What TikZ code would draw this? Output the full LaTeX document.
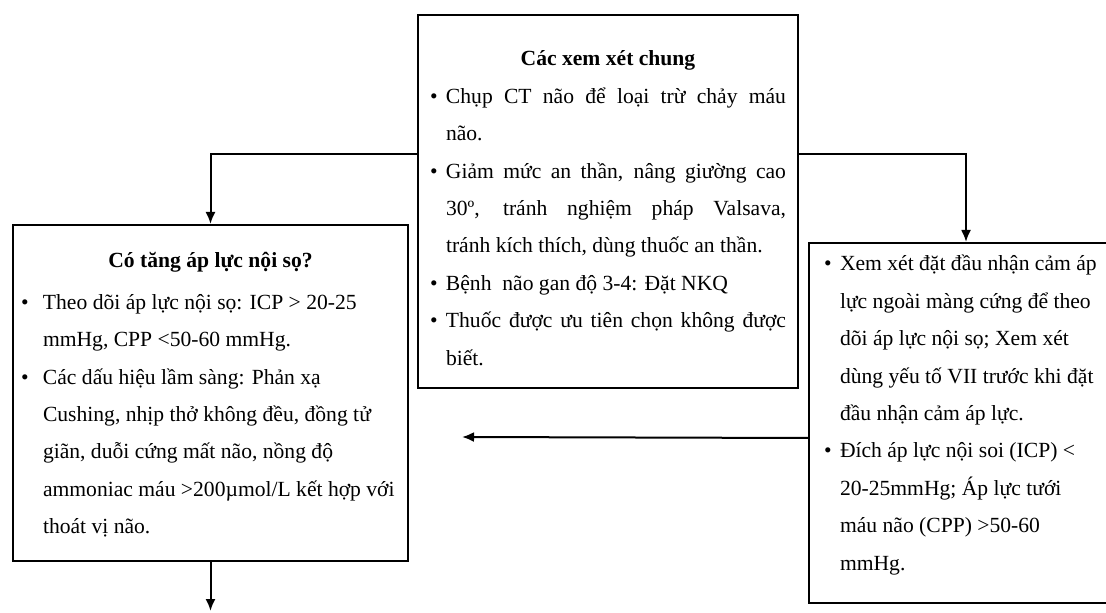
\documentclass[tikz,border=0pt]{standalone}
\usepackage{fontspec}
\setmainfont{Liberation Serif}
\usetikzlibrary{arrows.meta}

\tikzset{
  panel/.style={draw, line width=1pt, anchor=north west, inner ysep=0pt,
    font=\fontsize{10.8pt}{18.7pt}\selectfont},
  arr/.style={line width=1pt, -{Latex[length=6pt,width=5pt]}}
}
% punto con sangria colgante
\newcommand{\bul}[2][8pt]{\par\hangindent=#1\hangafter=1\noindent\hbox to #1{\textbullet\hss}#2}

\begin{document}
\begin{tikzpicture}[x=0.5pt, y=-0.5pt]
    \useasboundingbox (0,0) rectangle (1106,613);

    % Caja superior
    \node[panel, inner xsep=6pt] (gen) at (417,14) {\parbox[t][186.5pt][t]{178pt}{%
      {\centering\rule{0pt}{25.5pt}\bfseries Các xem xét chung\par}
      \bul{Chụp CT não để loại trừ chảy máu\linebreak não.}
      \bul{Giảm mức an thần, nâng giường cao\linebreak 30º, tránh nghiệm pháp Valsava,\linebreak tránh kích thích, dùng thuốc an thần.}
      \bul{Bệnh\ \ não gan độ 3-4: Đặt NKQ}
      \bul{Thuốc được ưu tiên chọn không được\linebreak biết.}}};

    % Caja izquierda
    \node[panel, inner xsep=4pt] (icp) at (12,224) {\parbox[t][168pt][t]{189.5pt}{\raggedright
      {\centering\rule{0pt}{21.5pt}\bfseries Có tăng áp lực nội sọ?\par}
      \vspace{2pt}
      \bul[11pt]{Theo dõi áp lực nội sọ: ICP > 20-25\newline mmHg, CPP <50-60 mmHg.}
      \bul[11pt]{Các dấu hiệu lầm sàng: Phản xạ\newline Cushing, nhịp thở không đều, đồng tử\newline giãn, duỗi cứng mất não, nồng độ\newline ammoniac máu >200µmol/L kết hợp với\newline thoát vị não.}}};

    % Caja derecha
    \node[panel, inner xsep=7.5pt] (mon) at (808,242) {\parbox[t][180pt][t]{142pt}{\raggedright
      \bul{\rule{0pt}{14pt}Xem xét đặt đầu nhận cảm áp\newline lực ngoài màng cứng để theo\newline dõi áp lực nội sọ; Xem xét\newline dùng yếu tố VII trước khi đặt\newline đầu nhận cảm áp lực.}
      \bul{Đích áp lực nội soi (ICP) <\newline 20-25mmHg; Áp lực tưới\newline máu não (CPP) >50-60\newline mmHg.}}};

    % Flechas
    \coordinate (tip) at (462,437);
    \coordinate (dn) at (0,611);
    \draw[arr] ([yshift=23.75pt]gen.west) -| (icp.north);
    \draw[arr] ([yshift=23.75pt]gen.east) -| (mon.north);
    \draw[arr] ([yshift=-7.5pt]mon.west) -- (tip);
    \draw[arr] (icp.south) -- (icp.south |- dn);
  \end{tikzpicture}
\end{document}
